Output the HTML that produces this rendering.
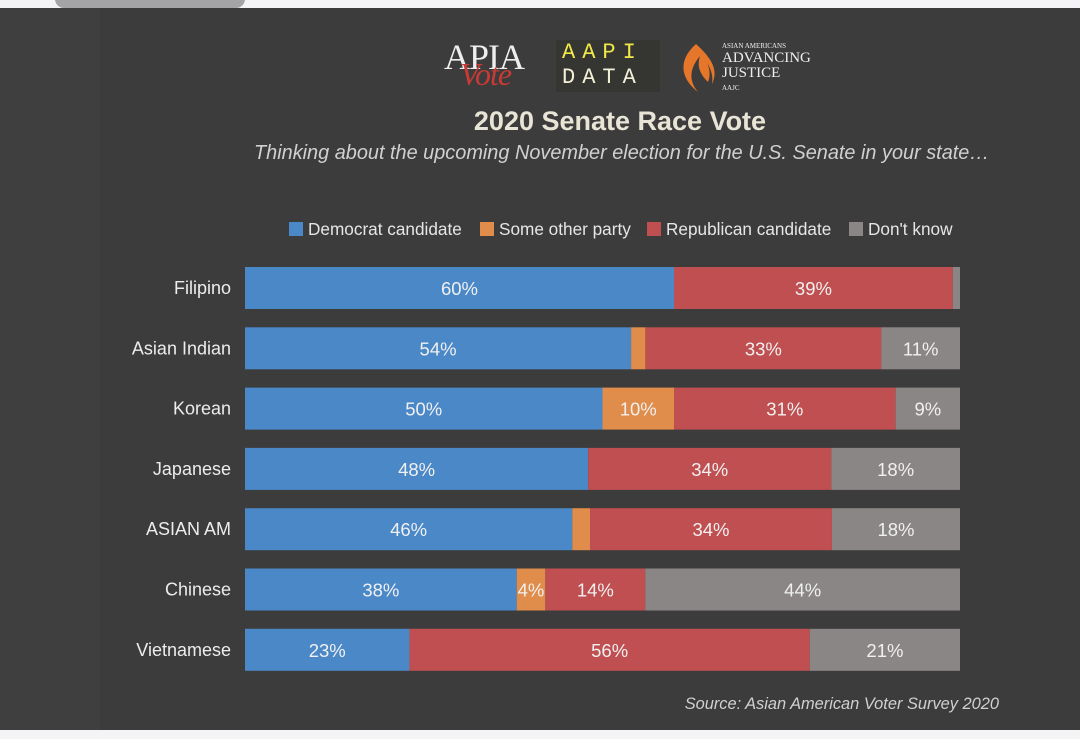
<!DOCTYPE html>
<html><head><meta charset="utf-8"><style>
body{margin:0;width:1080px;height:739px;overflow:hidden;background:#f4f4f6;font-family:"Liberation Sans",sans-serif}
#bg{position:absolute;left:0;top:8px;width:1080px;height:722px;background:#3f3f3f}
#inner{position:absolute;left:100px;top:8px;width:980px;height:722px;background:#3c3c3c}
#pill{position:absolute;left:55px;top:-10px;width:190px;height:18px;border-radius:9px;background:#a4a4a6}
.t{position:absolute;white-space:nowrap}
</style></head><body>
<div id="bg"></div>
<div id="inner"></div>
<div id="pill"></div>
<div class="t" style="left:444px;top:36px;font-family:'Liberation Serif',serif;font-size:36px;color:#eee;letter-spacing:-1px">APIA<span style="position:absolute;left:16px;top:20px;color:#c83a35;font-style:italic;font-size:32px">Vote</span></div>
<div class="t" style="left:556px;top:40px;width:98px;height:52px;background:#353532;font-family:'Liberation Mono',monospace;font-size:22px;line-height:25px;letter-spacing:7px;padding-left:6px"><div style="color:#f0e84a">AAPI</div><div style="color:#f2f0d6">DATA</div></div>
<svg class="t" style="left:678px;top:42px" width="40" height="52"><path d="M18 2 C0 18 2 36 20 50 C10 38 12 26 22 14 C18 26 24 34 30 40 C34 30 30 20 24 14 C30 22 36 30 34 42 C40 30 36 18 18 2Z" fill="#e6762a"/></svg>
<div class="t" style="left:722px;top:42px;font-family:'Liberation Serif',serif;color:#eee;line-height:15px"><div style="font-size:7px;line-height:9px">ASIAN AMERICANS</div><div style="font-size:15px">ADVANCING</div><div style="font-size:15px">JUSTICE</div><div style="font-size:7px">AAJC</div></div>
<div class="t" style="left:0;width:1240px;text-align:center;top:106px;font-size:27px;font-weight:bold;color:#e8e4d6">2020 Senate Race Vote</div>
<div class="t" style="left:254px;top:142px;font-size:19.9px;font-style:italic;color:#d0d0d0">Thinking about the upcoming November election for the U.S. Senate in your state…</div>
<div class="t" style="right:81px;top:695px;font-size:16.4px;font-style:italic;color:#d0d0d0">Source: Asian American Voter Survey 2020</div>
<svg id="chart" width="1080" height="739" style="position:absolute;left:0;top:0"></svg>
<script>
const categories=["Filipino","Asian Indian","Korean","Japanese","ASIAN AM","Chinese","Vietnamese"];
const democrat=[60,54,50,48,46,38,23];
const other=[0,2,10,0,2.5,4,0];
const republican=[39,33,31,34,34,14,56];
const dontKnow=[1,11,9,18,18,44,21];
const seriesNames=["Democrat candidate","Some other party","Republican candidate","Don't know"];
const colors=["#4a88c8","#e08c4a","#c04f51","#8b8686"];
const svg=document.getElementById('chart');
const NS="http://www.w3.org/2000/svg";
const x0=245,x1=960,y0=267,step=60.3,bh=42;
const xs=v=>v/100*(x1-x0);
const ys=i=>y0+i*step;
function mk(tag,attrs){const e=document.createElementNS(NS,tag);for(const k in attrs)e.setAttribute(k,attrs[k]);svg.appendChild(e);return e;}
const series=[democrat,other,republican,dontKnow];
const lx=[289,480,647,849];
seriesNames.forEach((n,i)=>{
 const r=mk('rect',{x:lx[i],y:222,width:14,height:14,fill:colors[i]});
 
 
 const t=mk('text',{x:lx[i]+19,y:235,fill:'#e6e6e6','font-size':17.2,'font-family':'Liberation Sans, sans-serif'});
 t.textContent=n;
 
 
});
categories.forEach((c,i)=>{
 const y=ys(i);
 const lab=mk('text',{x:231,y:y+bh/2+6,'text-anchor':'end',fill:'#ececec','font-size':18,'font-family':'Liberation Sans, sans-serif'});
 lab.textContent=c;
 
 
 const tot=series.reduce((s,a)=>s+a[i],0);
 let acc=0;
 series.forEach((s,j)=>{
  const v=s[i]*100/tot;
  if(v>0){
   const r=mk('rect',{x:x0+xs(acc),y:y,width:xs(v),height:bh,fill:colors[j]});
   
   
   if(s[i]>=3){
    const t=mk('text',{x:x0+xs(acc+v/2),y:y+bh/2+7,'text-anchor':'middle',fill:'#f0f0f0','font-size':18.5,'font-family':'Liberation Sans, sans-serif'});
    t.textContent=Math.round(s[i])+'%';
    
    
   }
  }
  acc+=v;
 });
});
</script>
</body></html>
